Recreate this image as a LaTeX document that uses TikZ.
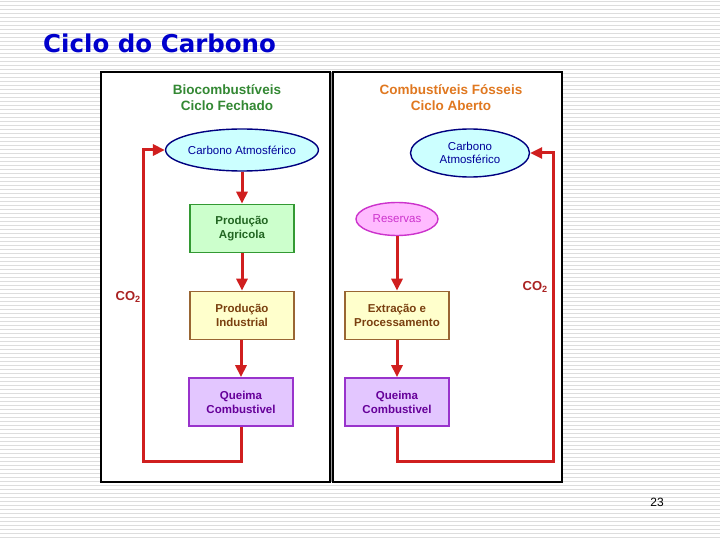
\documentclass[tikz,border=0pt]{standalone}
\usepackage{fontspec}
\setmainfont{Liberation Sans}
\newfontfamily\titlefont{DejaVu Sans}
\usetikzlibrary{arrows.meta, shapes.geometric}
\definecolor{titleblue}{HTML}{0000CC}
\definecolor{stripe}{HTML}{DDDDDD}
\definecolor{panelgap}{HTML}{999999}
\definecolor{arrowred}{HTML}{D01F1F}
\definecolor{co2red}{HTML}{AA2222}
\definecolor{greenhead}{HTML}{338833}
\definecolor{orangehead}{HTML}{E07820}
\definecolor{cloudfill}{HTML}{CCFFFF}
\definecolor{cloudline}{HTML}{000080}
\definecolor{cloudtext}{HTML}{000099}
\definecolor{agrifill}{HTML}{CCFFCC}
\definecolor{agriline}{HTML}{339933}
\definecolor{agritext}{HTML}{226622}
\definecolor{indfill}{HTML}{FFFFCC}
\definecolor{indline}{HTML}{996633}
\definecolor{indtext}{HTML}{7A4010}
\definecolor{burnfill}{HTML}{E3C6FF}
\definecolor{burnline}{HTML}{9933CC}
\definecolor{burntext}{HTML}{660099}
\definecolor{resfill}{HTML}{FFBBFF}
\definecolor{resline}{HTML}{CC33CC}

\begin{document}
\begin{tikzpicture}[x=1pt, y=-1pt,
  flow/.style={-{Triangle[length=12pt,width=11pt]}, line width=3pt, arrowred},
  cloud/.style={ellipse, draw=cloudline, fill=cloudfill, line width=1.4pt, text=cloudtext,
    inner sep=0pt, align=center, font=\fontsize{11.5}{13}\selectfont},
  stepbox/.style={draw, line width=1.7pt, minimum width=104pt, minimum height=48pt,
    inner sep=0pt, align=center, font=\fontsize{11.5}{14}\selectfont\bfseries},
  heading/.style={align=center, font=\fontsize{13.5}{16}\selectfont\bfseries},
  co2/.style={text=co2red, inner sep=0pt, font=\fontsize{13}{14}\selectfont\bfseries}]
\useasboundingbox (0,0) rectangle (720,540);
\fill[white] (0,0) rectangle (720,540);
\foreach \y in {1,5,...,537}
  \fill[stripe] (0,\y) rectangle (720,\y+1.4);

% title and page number
\node[anchor=base west, inner sep=0pt, text=titleblue, font=\titlefont\bfseries\fontsize{24.5}{28}\selectfont] (title) at (43,53) {Ciclo do Carbono};
\node[font=\fontsize{12}{14}\selectfont] (page) at (657,502) {23};

% panels
\fill[panelgap] (329,72) rectangle (333,482);
\draw[line width=2pt, fill=white] (101,72) rectangle (330,482);
\draw[line width=2pt, fill=white] (333,72) rectangle (562,482);

% closed cycle
\node[heading, text=greenhead] (head1) at (227,98) {Biocombust\'iveis\\Ciclo Fechado};
\node[cloud, minimum width=122pt, minimum height=42pt] (c1) at (242,150) {Carbono Atmosf\'erico};
\node[stepbox, draw=agriline, fill=agrifill, text=agritext] (agri) at (242,228.5) {Produ\c{c}\~ao\\Agricola};
\node[stepbox, draw=indline, fill=indfill, text=indtext] (ind1) at (242,315.5) {Produ\c{c}\~ao\\Industrial};
\node[stepbox, draw=burnline, fill=burnfill, text=burntext] (q1) at (241,402) {Queima\\Combustivel};
\coordinate (l1) at (143,461);
\draw[flow] (c1) -- (agri);
\draw[flow] (agri) -- (ind1);
\draw[flow] (ind1.south -| q1) -- (q1);
\draw[flow] (q1.south) |- (l1) |- (c1.west);
\node[co2, anchor=east] (co2l) at (141,297) {CO\textsubscript{2}};

% open cycle
\node[heading, text=orangehead] (head2) at (451,98) {Combust\'iveis F\'osseis\\Ciclo Aberto};
\node[cloud, minimum width=119pt, minimum height=48pt] (c2) at (470,153) {Carbono\\Atmosf\'erico};
\node[ellipse, draw=resline, fill=resfill, text=resline, line width=1.4pt, inner sep=0pt,
  minimum width=82pt, minimum height=33pt, font=\fontsize{11.5}{13}\selectfont] (res) at (397,219) {Reservas};
\node[stepbox, draw=indline, fill=indfill, text=indtext] (ind2) at (397,315.5) {Extra\c{c}\~ao e\\Processamento};
\node[stepbox, draw=burnline, fill=burnfill, text=burntext] (q2) at (397,402) {Queima\\Combustivel};
\coordinate (l2) at (553,461);
\draw[flow] (res) -- (ind2);
\draw[flow] (ind2) -- (q2);
\draw[flow] (q2.south) |- (l2) |- (c2.east);
\node[co2, anchor=east] (co2r) at (548,287) {CO\textsubscript{2}};
\end{tikzpicture}
\end{document}
